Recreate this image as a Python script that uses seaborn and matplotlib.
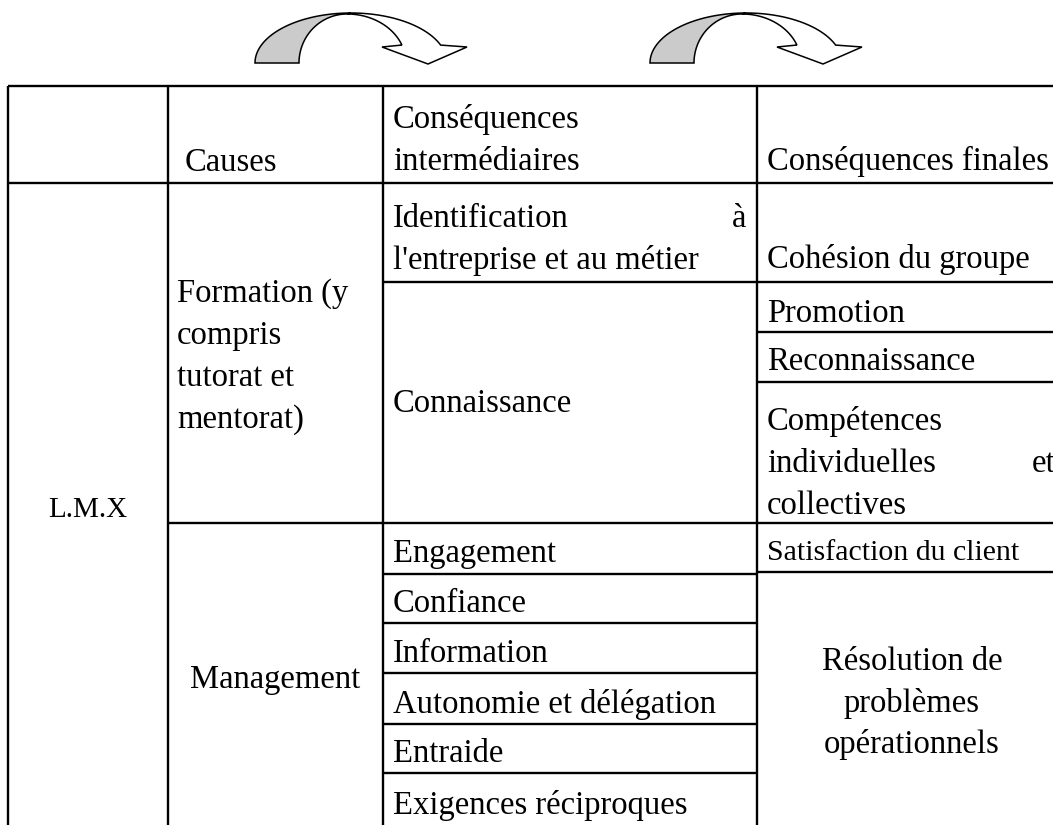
import numpy as np
import matplotlib
matplotlib.use("Agg")
import matplotlib.pyplot as plt
from matplotlib.patches import Polygon
import seaborn as sns

sns.set_theme(style="white")
plt.rcParams["font.family"] = ["Liberation Serif", "DejaVu Serif"]

# --- table content ---
root_label = "L.M.X"
header_causes = "Causes"
header_inter = ["Conséquences", "intermédiaires"]
header_final = "Conséquences finales"
causes_formation = ["Formation (y", "compris", "tutorat et", "mentorat)"]
cause_management = "Management"
inter_identification = ["Identification", "l'entreprise et au métier"]
inter_connaissance = "Connaissance"
inter_management = ["Engagement", "Confiance", "Information",
                    "Autonomie et délégation", "Entraide", "Exigences réciproques"]
final_top = ["Cohésion du groupe", "Promotion", "Reconnaissance"]
final_competences = ["Compétences", "individuelles", "collectives"]
final_satisfaction = "Satisfaction du client"
final_resolution = ["Résolution de", "problèmes", "opérationnels"]

# --- layout (pixels, y downwards) ---
col_x = [8, 168, 383, 757, 1080]
top_y, head_y, bottom_y = 86, 183, 840
fs, fs_small = 23.5, 21.5
lw = 1.7

fig = plt.figure(figsize=(10.53, 8.25), dpi=100)
ax = fig.add_axes([0, 0, 1, 1])
ax.set_xlim(0, 1053)
ax.set_ylim(825, 0)
ax.axis("off")

# grid lines
for x in col_x[:4]:
    ax.vlines(x, top_y, bottom_y, color="black", lw=lw)
ax.hlines([top_y, head_y], col_x[0], col_x[4], color="black", lw=lw)
ax.hlines(523, col_x[1], col_x[3], color="black", lw=lw)
ax.hlines([282, 574, 623, 673, 724, 773], col_x[2], col_x[3], color="black", lw=lw)
ax.hlines([282, 332, 382, 523, 572], col_x[3], col_x[4], color="black", lw=lw)


def put(x, y, s, ha="left", size=fs):
    ax.text(x, y, s, ha=ha, va="baseline", fontsize=size, color="black")


# header
put(185, 171, header_causes)
put(393, 128, header_inter[0])
put(393, 170, header_inter[1])
put(767, 170, header_final)

# first column
put(88, 517, root_label, ha="center", size=21)

# causes
for i, s in enumerate(causes_formation):
    put(177, 302 + 42 * i, s)
put(275.5, 688, cause_management, ha="center")

# intermediate consequences
put(393, 227, inter_identification[0])
put(746, 227, "à", ha="right")
put(393, 269, inter_identification[1])
put(393, 412, inter_connaissance)
for s, y in zip(inter_management, [562, 612, 662, 713, 762, 814]):
    put(393, y, s)

# final consequences
for s, y in zip(final_top, [268, 322, 370]):
    put(767, y, s)
for s, y in zip(final_competences, [430, 472, 514]):
    put(767, y, s)
put(1032, 472, "et")
put(767, 560, final_satisfaction, size=fs_small)
for s, y in zip(final_resolution, [670, 712, 753]):
    put(912, y, s, ha="center")


# curved arrows above the table
def curved_arrow(dx):
    cx, cy = 351 + dx, 63
    th = np.radians(np.linspace(180, 90, 80))
    outer_left = np.c_[cx + 96 * np.cos(th), cy - 50 * np.sin(th)]
    th = np.radians(np.linspace(90, 180, 80))
    inner_gray = np.c_[347 + dx + 48 * np.cos(th), 63 - 49 * np.sin(th)]
    ax.add_patch(Polygon(np.vstack([outer_left, inner_gray]), closed=True,
                         facecolor="#cbcbcb", edgecolor="black", lw=1.1))
    th = np.radians(np.linspace(90, 21, 80))
    outer_right = np.c_[cx + 96 * np.cos(th), cy - 50 * np.sin(th)]
    head = np.array([(467 + dx, 47), (428 + dx, 64), (382 + dx, 47)])
    th = np.radians(np.linspace(21.5, 90, 80))
    inner_white = np.c_[347 + dx + 59 * np.cos(th), 63 - 49 * np.sin(th)]
    ax.add_patch(Polygon(np.vstack([outer_right, head, inner_white]), closed=True,
                         facecolor="white", edgecolor="black", lw=1.1))


curved_arrow(0)
curved_arrow(395)

fig.savefig("out.png", dpi=100, facecolor="white")
